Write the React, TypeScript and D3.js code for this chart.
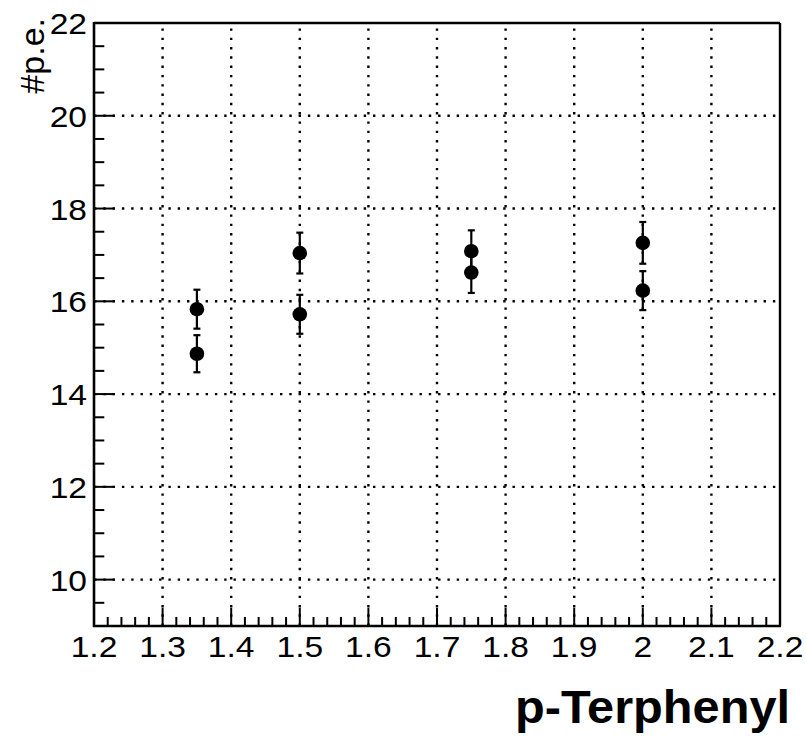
import React from "react";
import * as d3 from "d3";

const width = 806,
  height = 736;

// points
const xValues = [1.35, 1.35, 1.5, 1.5, 1.75, 1.75, 2.0, 2.0];
const yValues = [15.83, 14.87, 17.04, 15.72, 17.08, 16.62, 17.26, 16.23];
const yErrors = [0.42, 0.4, 0.44, 0.42, 0.45, 0.44, 0.45, 0.42];

const xTickLabels = ["1.2", "1.3", "1.4", "1.5", "1.6", "1.7", "1.8", "1.9", "2", "2.1", "2.2"];
const yTickLabels = ["10", "12", "14", "16", "18", "20", "22"];

const margin = { left: 94, right: 26, top: 23, bottom: 110 };
const font = "'Liberation Sans', Arial, Helvetica, sans-serif";
const stretch = 1.12; // glyphs in the original are a bit wider

export default function App() {
  const x = d3.scaleLinear().domain([1.2, 2.2]).range([margin.left, width - margin.right]);
  const y = d3.scaleLinear().domain([9, 22]).range([height - margin.bottom, margin.top]);

  const [x0, x1] = x.range();
  const [y0, y1] = y.range(); // y0 bottom, y1 top

  const xMajor = xTickLabels.map(Number);
  const yMajor = yTickLabels.map(Number);
  const xMinor = d3.range(0, 51).map(i => 1.2 + i * 0.02);
  const yMinor = d3.range(0, 27).map(i => 9 + i * 0.5);

  const xTickLen = 0.03 * (y0 - y1);
  const yTickLen = 0.03 * (x1 - x0);

  const grid = { stroke: "#000", strokeWidth: 2.4, strokeDasharray: "2.4 6.9" };

  return (
    <svg width={width} height={height} style={{ position: "absolute", left: 0, top: 0 }}>
      <rect width={width} height={height} fill="#fff" />

      {/* grid */}
      {xMajor.slice(1, -1).map(v => (
        <line key={"gx" + v} x1={x(v)} x2={x(v)} y1={y0} y2={y1} {...grid} />
      ))}
      {yMajor.filter(v => v < 22).map(v => (
        <line key={"gy" + v} x1={x0} x2={x1} y1={y(v)} y2={y(v)} {...grid} />
      ))}

      {/* frame */}
      <line x1={x0} x2={x1} y1={y1} y2={y1} stroke="#000" strokeWidth={2.4} />
      <line x1={x1} x2={x1} y1={y1} y2={y0} stroke="#000" strokeWidth={2.4} />

      {/* x axis */}
      <line x1={x0 - 1} x2={x1 + 1} y1={y0} y2={y0} stroke="#000" strokeWidth={2.6} />
      {xMinor.map((v, i) => (
        <line
          key={"xt" + i}
          x1={x(v)}
          x2={x(v)}
          y1={y0}
          y2={y0 - (i % 5 === 0 ? xTickLen : xTickLen / 2)}
          stroke="#000"
          strokeWidth={2}
        />
      ))}
      {xMajor.map((v, i) => (
        <text
          key={"xl" + v}
          transform={`translate(${x(v)},${y0 + 31}) scale(${stretch},1)`}
          textAnchor="middle"
          fontFamily={font}
          fontSize={30}
        >
          {xTickLabels[i]}
        </text>
      ))}

      {/* y axis */}
      <line x1={x0} x2={x0} y1={y0 + 1} y2={y1 - 1} stroke="#000" strokeWidth={2.6} />
      {yMinor.map((v, i) => (
        <line
          key={"yt" + i}
          x1={x0}
          x2={x0 + ((i + 2) % 4 === 0 ? yTickLen : yTickLen / 2)}
          y1={y(v)}
          y2={y(v)}
          stroke="#000"
          strokeWidth={2}
        />
      ))}
      {yMajor.map((v, i) => (
        <text
          key={"yl" + v}
          transform={`translate(${x0 - 7},${y(v) + 11}) scale(${stretch},1)`}
          textAnchor="end"
          fontFamily={font}
          fontSize={30}
        >
          {yTickLabels[i]}
        </text>
      ))}

      {/* axis titles */}
      <text
        x={790}
        y={723}
        textAnchor="end"
        fontFamily={font}
        fontSize={46}
        fontWeight="bold"
        textLength={275}
        lengthAdjust="spacingAndGlyphs"
      >
        p-Terphenyl
      </text>
      <text
        transform={`translate(44,18) rotate(-90)`}
        textAnchor="end"
        fontFamily={font}
        fontSize={34}
      >
        #p.e.
      </text>

      {/* points with errors */}
      {xValues.map((xv, i) => {
        const cx = x(xv);
        const top = y(yValues[i] + yErrors[i]);
        const bot = y(yValues[i] - yErrors[i]);
        return (
          <g key={"p" + i} stroke="#000" strokeWidth={2.2}>
            <line x1={cx} x2={cx} y1={top} y2={bot} />
            <line x1={cx - 3.5} x2={cx + 3.5} y1={top} y2={top} />
            <line x1={cx - 3.5} x2={cx + 3.5} y1={bot} y2={bot} />
            <circle cx={cx} cy={y(yValues[i])} r={7.3} fill="#000" stroke="none" />
          </g>
        );
      })}
    </svg>
  );
}
